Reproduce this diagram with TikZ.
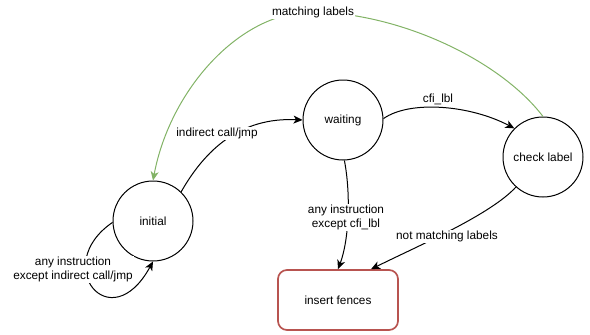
\documentclass[tikz,border=0pt]{standalone}
\usepackage{fontspec}
\setmainfont{Liberation Sans}
\usetikzlibrary{arrows.meta}
\definecolor{grn}{HTML}{82B366}
\definecolor{redb}{HTML}{B85450}
\begin{document}
\begin{tikzpicture}[x=1pt,y=-1pt,
  font=\fontsize{11.8}{14}\selectfont,
  state/.style={circle,draw,line width=1pt,minimum size=80pt,inner sep=0pt},
  fencebox/.style={draw=redb,line width=1.7pt,rounded corners=9pt,minimum width=120pt,minimum height=60pt},
  edge/.style={line width=1pt,-{Stealth[length=9pt,width=8pt,inset=2.5pt]}},
  gedge/.style={edge,draw=grn,-{Stealth[length=9pt,width=8pt,inset=2.5pt,fill=grn]}},
  lbl/.style={fill=white,inner sep=1pt,align=center}]
\useasboundingbox (0,0) rectangle (590,335);
\node[state] (initial) at (153,221) {initial};
\node[state] (waiting) at (343,120) {waiting};
\node[state] (check) at (543,157) {check label};
\node[fencebox] (fences) at (338,300) {insert fences};

% indirect call/jmp
\draw[edge] (initial.46) .. controls (205,150) and (240,117) .. (waiting.west);
\node[lbl] (l1) at (217,133) {indirect call/jmp};

% cfi_lbl
\draw[edge] (waiting.2) .. controls (410,100) and (470,105) .. (check.135);
\node[lbl] (l2) at (438,99) {cfi\_lbl};

% any instruction except cfi_lbl
\draw[edge] (waiting.-88) .. controls (351,195) and (349,240) .. (fences.north);
\node[lbl] (l3) at (346,217) {any instruction\\except cfi\_lbl};

% not matching labels
\draw[edge] (check.228) .. controls (490,215) and (420,245) .. (fences.43);
\node[lbl] (l4) at (447,236) {not matching labels};

% matching labels (green)
\coordinate (mtop) at (313,12);
\draw[grn,line width=1pt] (check.north) .. controls (500,60) and (400,13) .. (mtop);
\draw[gedge] (mtop) .. controls (240,11) and (170,90) .. (initial.north);
\node[lbl] (l5) at (313,12) {matching labels};

% self loop
\draw[edge] (initial.182) .. controls (50,265) and (110,340) .. (initial.-90);
\node[lbl] (l6) at (73,269) {any instruction\\except indirect call/jmp};
\end{tikzpicture}
\end{document}
